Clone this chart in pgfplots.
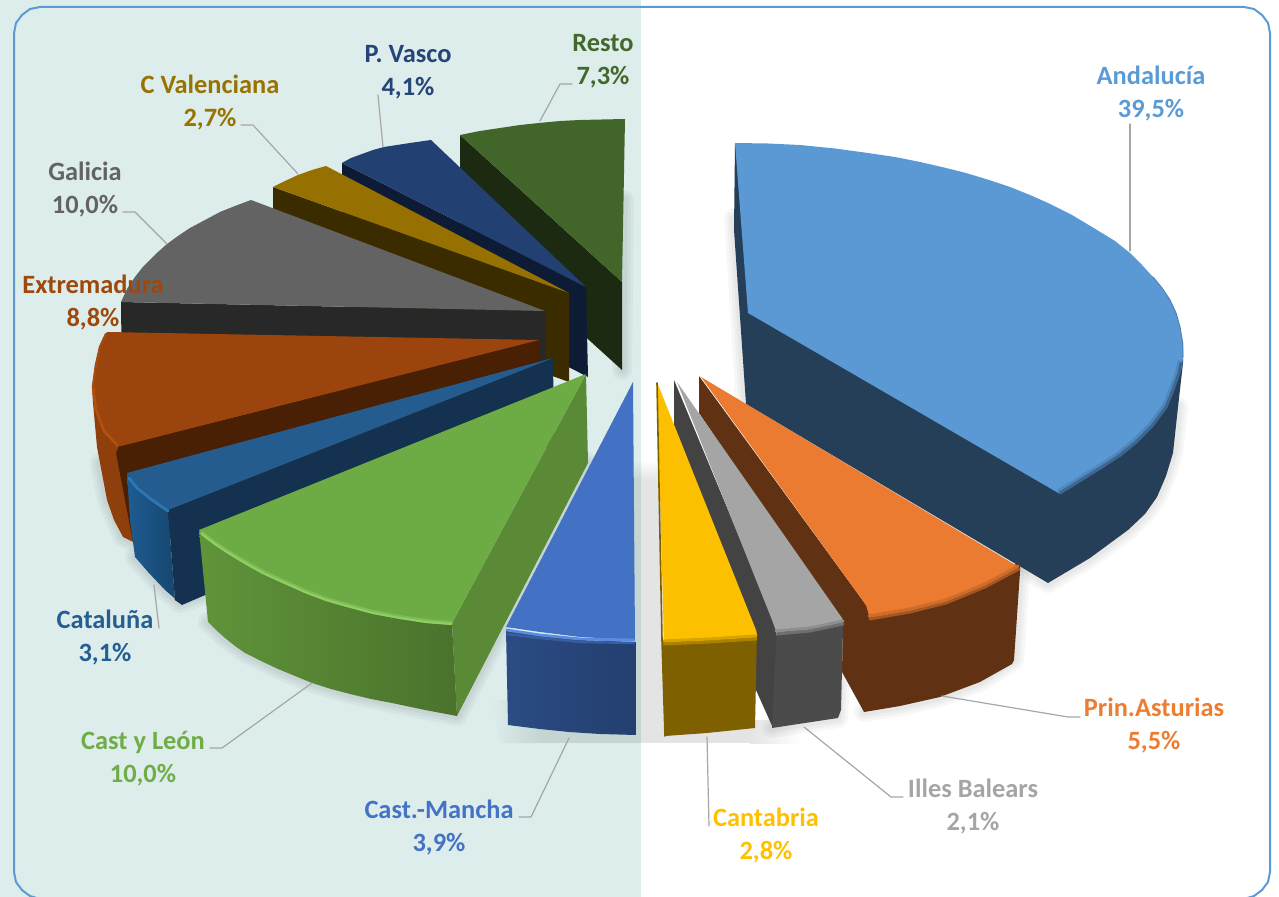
\documentclass[border=0pt]{standalone}
\usepackage{pgfplots}
\pgfplotsset{compat=1.18}
\usepackage{fontspec}
\setmainfont{Carlito}
\definecolor{bgteal}{HTML}{DCEDEC}
\definecolor{frmblue}{HTML}{5B9BD5}
\definecolor{leader}{HTML}{A6A6A6}
\definecolor{ShR}{HTML}{E4E4E4}\definecolor{ShL}{HTML}{C4D5D4}
\definecolor{ResD}{RGB}{27,42,16}\definecolor{ResT}{RGB}{66,102,42}
\definecolor{VasD}{RGB}{13,27,53}\definecolor{VasT}{RGB}{35,64,115}
\definecolor{ValD}{RGB}{59,44,0}\definecolor{ValT}{RGB}{150,112,0}
\definecolor{GalD}{RGB}{40,40,40}\definecolor{GalT}{RGB}{99,99,99}
\definecolor{ExtO}{RGB}{143,63,12}\definecolor{ExtD}{RGB}{74,32,4}\definecolor{ExtT}{RGB}{156,68,14}\definecolor{ExtR}{RGB}{176,81,15}
\definecolor{CatA}{RGB}{30,92,145}\definecolor{CatB}{RGB}{22,68,108}\definecolor{CatD}{RGB}{20,50,79}\definecolor{CatT}{RGB}{36,92,144}\definecolor{CatR}{RGB}{43,120,181}
\definecolor{LeoS}{RGB}{90,138,54}\definecolor{LeoA}{RGB}{96,148,58}\definecolor{LeoB}{RGB}{74,114,44}\definecolor{LeoT}{RGB}{109,171,69}\definecolor{LeoR}{RGB}{143,207,100}
\definecolor{ManA}{RGB}{43,75,130}\definecolor{ManB}{RGB}{36,63,112}\definecolor{ManT}{RGB}{67,113,196}\definecolor{ManR}{RGB}{90,140,224}
\definecolor{AndD}{RGB}{36,63,87}\definecolor{AndT}{RGB}{91,153,213}
\definecolor{AstD}{RGB}{96,49,19}\definecolor{AstT}{RGB}{235,123,48}
\definecolor{IllD}{RGB}{67,67,67}\definecolor{IllS}{RGB}{75,75,75}\definecolor{IllT}{RGB}{165,165,165}
\definecolor{CanS}{RGB}{127,96,0}\definecolor{CanT}{RGB}{253,192,0}
\definecolor{tAst}{RGB}{237,125,49}\definecolor{tIll}{RGB}{165,165,165}\definecolor{tCan}{RGB}{255,192,0}\definecolor{tMan}{RGB}{68,114,196}\definecolor{tLeo}{RGB}{112,173,71}\definecolor{tCat}{RGB}{37,94,145}\definecolor{tExt}{RGB}{158,72,14}\definecolor{tGal}{RGB}{99,99,99}\definecolor{tVal}{RGB}{153,115,0}\definecolor{tVas}{RGB}{38,68,120}\definecolor{tRes}{RGB}{67,104,43}
\newcommand\myshp[2]{\addplot[draw=none,#1] coordinates {#2} --cycle;}
\newcommand\mylin[2]{\addplot[line join=round,line cap=round,#1] coordinates {#2};}
\newcommand\myshadow[1]{%
 \addplot[draw=black,draw opacity=.03,line width=10pt,line join=round] coordinates {#1} --cycle;
 \addplot[draw=black,draw opacity=.03,line width=7pt,line join=round] coordinates {#1} --cycle;
 \addplot[draw=black,draw opacity=.035,line width=4pt,line join=round] coordinates {#1} --cycle;}
\newcommand\mylab[5]{%
 \node[text=#4,font=\fontsize{13.2}{15}\selectfont\bfseries,anchor=base] at (axis cs:#1,#2+8.5) {#3};
 \node[text=#4,font=\fontsize{13.2}{15}\selectfont\bfseries,anchor=base] at (axis cs:#1,#2+41.5) {#5};}
\begin{document}
\begin{tikzpicture}
\useasboundingbox (0,0) rectangle (639.5pt,448.5pt);
\begin{axis}[scale only axis,width=639.5pt,height=448.5pt,at={(0,0)},anchor=south west,
 xmin=0,xmax=1279,ymin=0,ymax=897,y dir=reverse,hide axis,no markers]
% background
\myshp{fill=bgteal}{(0,0)(641,0)(641,897)(0,897)}
% shadows
\myshp{top color=white,bottom color=ShR}{(641,460)(668,460)(668,480)(641,480)}
\myshp{fill=ShR}{(641,480)(668,480)(668,720)(641,720)}
\myshp{fill=ShR}{(641,720)(750,720)(750,743)(641,743)}
\myshp{left color=ShR,right color=white}{(750,720)(800,720)(800,743)(750,743)}
\myshp{top color=bgteal,bottom color=ShL}{(630,460)(641,460)(641,480)(630,480)}
\myshp{fill=ShL}{(630,480)(641,480)(641,743)(630,743)}
\myshp{left color=bgteal,right color=ShL}{(492,700)(540,700)(540,743)(500,743)}
\myshp{fill=ShL}{(540,700)(632,700)(632,743)(540,743)}
\myshadow{(734,218)(746,404)(1048,583)(1090,558)(1128,530)(1145,514)(1157,497)(1166,476)(1173,453)(1178,407)}
\myshadow{(864,712)(900,706)(940,697)(980,682)(1014,660)(1020,572)}
\myshadow{(772,728)(838,718)(843,628)}
\myshadow{(208,622)(225,638)(245,653)(278,669)(312,683)(350,694)(392,703)(457,716)(588,463)}
\myshadow{(135,557)(148,572)(165,590)(180,603)(204,595)}
\myshadow{(100,463)(107,500)(123,537)(133,542)(170,530)}
\myshadow{(622,370)(624,200)}
% Resto
\myshp{fill=ResD}{(460,135)(622,282)(622,370)(460,223)}
\myshp{fill=ResT}{(460,135)(480,131)(500,128)(520,125)(539,123)(560,121)(580,120)(602,119.5)(625,119)(622,282)}
% P. Vasco
\myshp{fill=VasD}{(342,163)(586,287)(588,377)(342,251)}
\myshp{fill=VasT}{(342,163)(351,158)(362,154)(373,150)(384,147)(397,145)(410,143)(431,140)(586,287)}
% C Valenciana
\myshp{fill=ValD}{(273,187)(569,293)(569,382)(273,275)}
\myshp{fill=ValT}{(273,187)(285,181)(298,175)(312,170)(326,166)(569,293)}
% Galicia
\myshp{fill=GalD}{(121,302)(545,311)(545,402)(122,392)}
\myshp{fill=GalT}{(121,302)(127,289)(135,277)(142,268)(150,260)(158,252)(167,244)(178,236)(190,228)(205,220)(220,212)(235,206)(251,200)(545,311)}
% Extremadura
\myshp{fill=ExtO}{(92,387)(93,403)(97,447)(107,500)(114,520)(123,537)(133,542)(133,460)(119,446)(103,432)}
\myshp{fill=ExtD}{(119,446)(539,340)(540,430)(133,542)(116,453)}
\myshp{fill=ExtT}{(107,332)(100,345)(95,365)(92,387)(95,410)(103,432)(117,447)(539,340)}
\mylin{draw=ExtR,line width=1.3pt}{(93,387)(96,410)(104,431)(117,445)}
\mylin{draw=ExtT!50!ExtR,line width=1.2pt}{(106,334)(100,347)(96,365)(93,387)}
% Cataluna
\myshp{left color=CatA,right color=CatB}{(127,473)(135,487)(150,499)(168,510)(175,600)(180,603)(165,590)(148,572)(135,557)(130,520)}
\myshp{fill=CatD}{(168,510)(553,358)(554,445)(182,605)(175,600)}
\myshp{fill=CatT}{(127,473)(135,485)(150,498)(168,510)(553,358)}
\mylin{draw=CatR,line width=1.4pt}{(129,478)(137,488)(152,500)(168,511)}
% Cast y Leon
\myshp{fill=LeoS}{(452,623)(586,374)(588,463)(457,716)}
\myshp{left color=LeoA,right color=LeoB}{(199,530)(207,537)(215,543)(227,551)(240,559)(252,566)(265,573)(285,582)(305,591)(326,599)(347,605)(373,612)(400,617)(426,621)(452,623)(457,716)(425,710)(392,703)(371,699)(350,694)(331,689)(312,683)(295,676)(278,669)(261,661)(245,653)(235,646)(225,638)(216,630)(208,622)}
\myshp{fill=LeoT}{(199,530)(207,537)(215,543)(227,551)(240,559)(252,566)(265,573)(285,582)(305,591)(326,599)(347,605)(373,612)(400,617)(426,621)(452,623)(586,374)}
\mylin{draw=LeoT!50!LeoR,line width=2pt}{(202,533)(207,537)(215,543)(227,551)(240,559)(252,566)(265,573)(285,582)(305,591)(326,599)(347,605)(373,612)(400,617)(426,621)(451,623)}
\mylin{draw=LeoR,line width=1pt}{(202,534)(207,538)(215,544)(227,552)(240,560)(252,567)(265,574)(285,583)(305,592)(326,600)(347,606)(373,613)(400,618)(426,622)(451,624)}
% Cast.-Mancha
\myshp{left color=ManA,right color=ManB}{(506,630)(540,635)(580,640)(636,642)(636,735)(600,734)(569,732)(540,729)(508,725)}
\myshp{fill=ManT}{(506,627)(540,632)(580,637)(635,640)(633,382)}
\mylin{draw=ManT!50!ManA,line width=1.2pt}{(507,634)(540,638)(580,642)(634,643)}
\mylin{draw=ManR,line width=1.4pt}{(507,630)(540,635)(580,639)(634,640)}
% Andalucia
\myshp{fill=AndD}{(735,143)(734,230)(746,404)(1048,583)(1090,558)(1128,530)(1145,514)(1157,497)(1166,476)(1173,453)(1178,407)(1183,363)(1183,343)}
\myshp{fill=AndT}{(735,143)(768,143.5)(800,145)(835,148.5)(868,153)(895,157)(920,162)(944,167.5)(966,173)(989,180)(1010,187)(1030,195)(1048,203)(1072,215)(1097,230)(1115,241)(1130,253)(1142,265)(1153,277)(1162,288)(1170,300)(1176,313)(1180,327)(1182.5,342)(1183,357)(1182,366)(1180,373)(1174,390)(1167,407)(1153,426)(1137,443)(1121,456)(1103,467)(1082,480)(1060,494)(748,313)}
\mylin{draw=AndT!80!AndD,line width=1.5pt}{(1179,361)(1177,371)(1171,388)(1164,405)(1150,424)(1134,440)(1118,453)(1100,465)(1079,478)(1058,491)}
\mylin{draw=AndT!45!AndD,line width=1.5pt}{(1181,363)(1179,373)(1173,390)(1166,407)(1152,426)(1136,442)(1120,455)(1102,467)(1081,480)(1060,493)}
\mylin{draw=AndT!75!AndD,line width=.5pt}{(1153,277)(1162,288)(1170,300)(1176,313)(1180,327)(1182.5,342)(1183,357)}
% Prin. Asturias
\myshp{fill=AstD}{(699,376)(866,605)(871,612)(910,605)(946,596)(985,580)(1020,562)(1020,572)(1014,660)(1012,664)(980,682)(940,697)(900,706)(864,712)(842,672)(843,625)(724,450)(699,413)}
\myshp{fill=AstT}{(701,377)(866,605)(870,619)(910,612)(946,603)(985,587)(1019,569)(1017,566)}
\mylin{draw=AstT!50!AstD,line width=1.5pt}{(870,619)(910,612)(946,603)(985,587)(1019,569)}
\mylin{draw=AstT!80!AstD,line width=1.5pt}{(869,616)(910,609)(946,600)(985,584)(1018,566)}
% Illes Balears
\myshp{fill=IllD}{(674,380)(775,623)(777,638)(773,728)(756,690)(750,620)(674,425)}
\myshp{fill=IllS}{(777,628)(810,625)(843,618)(843,628)(841,710)(838,718)(772,728)}
\myshp{fill=IllT}{(677,382)(772,620)(776,631)(810,628)(843,621)(842,618)}
\mylin{draw=IllT!40!IllS,line width=1.5pt}{(777,634)(810,631)(843,624)}
\mylin{draw=IllT!75!IllS,line width=1.5pt}{(776,631)(810,628)(843,621)}
% Cantabria
\myshp{fill=CanS}{(662,640)(709,638)(757,631)(755,728)(707,733)(665,736)}
\myshp{fill=CanT}{(657,382)(664,641)(709,639)(757,635)(756,630)}
\mylin{draw=CanT!35!CanS,line width=1.5pt}{(664,644)(709,642)(756,639)}
\mylin{draw=CanT!70!CanS,line width=1.5pt}{(664,641)(709,639)(756,636)}
\mylin{draw=CanS,line width=.8pt}{(657,383)(662,640)(665,736)}
% leader lines
\mylin{draw=leader,line width=.6pt}{(1130,124)(1130,251)}
\mylin{draw=leader,line width=.6pt}{(942,696)(1068,717)(1080,717)}
\mylin{draw=leader,line width=.6pt}{(804,727)(891,797)(903,797)}
\mylin{draw=leader,line width=.6pt}{(707,737)(709,826)}
\mylin{draw=leader,line width=.6pt}{(569,738)(531,817)(519,817)}
\mylin{draw=leader,line width=.6pt}{(312,683)(222,748)(210,748)}
\mylin{draw=leader,line width=.6pt}{(154,585)(159,628)}
\mylin{draw=leader,line width=.6pt}{(167,244)(135,212)(123,212)}
\mylin{draw=leader,line width=.6pt}{(298,174)(253,125)(241,125)}
\mylin{draw=leader,line width=.6pt}{(383,147)(378,95)}
\mylin{draw=leader,line width=.6pt}{(540,121)(560,84)(572,84)}
% frame
\addplot[draw=frmblue,line width=1pt] coordinates {(40,7)(1244,7)(1254,9)(1262,15)(1268,23)(1270,33)(1270,872)(1268,882)(1262,890)(1254,896)(1244,899)(40,899)(30,896)(22,890)(16,882)(14,872)(14,33)(16,23)(22,15)(30,9)} --cycle;
% labels
\mylab{1151}{76}{Andalucía}{frmblue}{39,5\%}
\mylab{1154}{708}{Prin.Asturias}{tAst}{5,5\%}
\mylab{973}{789}{Illes Balears}{tIll}{2,1\%}
\mylab{766}{818}{Cantabria}{tCan}{2,8\%}
\mylab{439}{810}{Cast.-Mancha}{tMan}{3,9\%}
\mylab{143}{741}{Cast y León}{tLeo}{10,0\%}
\mylab{105}{620}{Cataluña}{tCat}{3,1\%}
\mylab{93}{285}{Extremadura}{tExt}{8,8\%}
\mylab{85}{172}{Galicia}{tGal}{10,0\%}
\mylab{210}{85}{C Valenciana}{tVal}{2,7\%}
\mylab{408}{54}{P. Vasco}{tVas}{4,1\%}
\mylab{603}{43}{Resto}{tRes}{7,3\%}
\end{axis}
\end{tikzpicture}
\end{document}
